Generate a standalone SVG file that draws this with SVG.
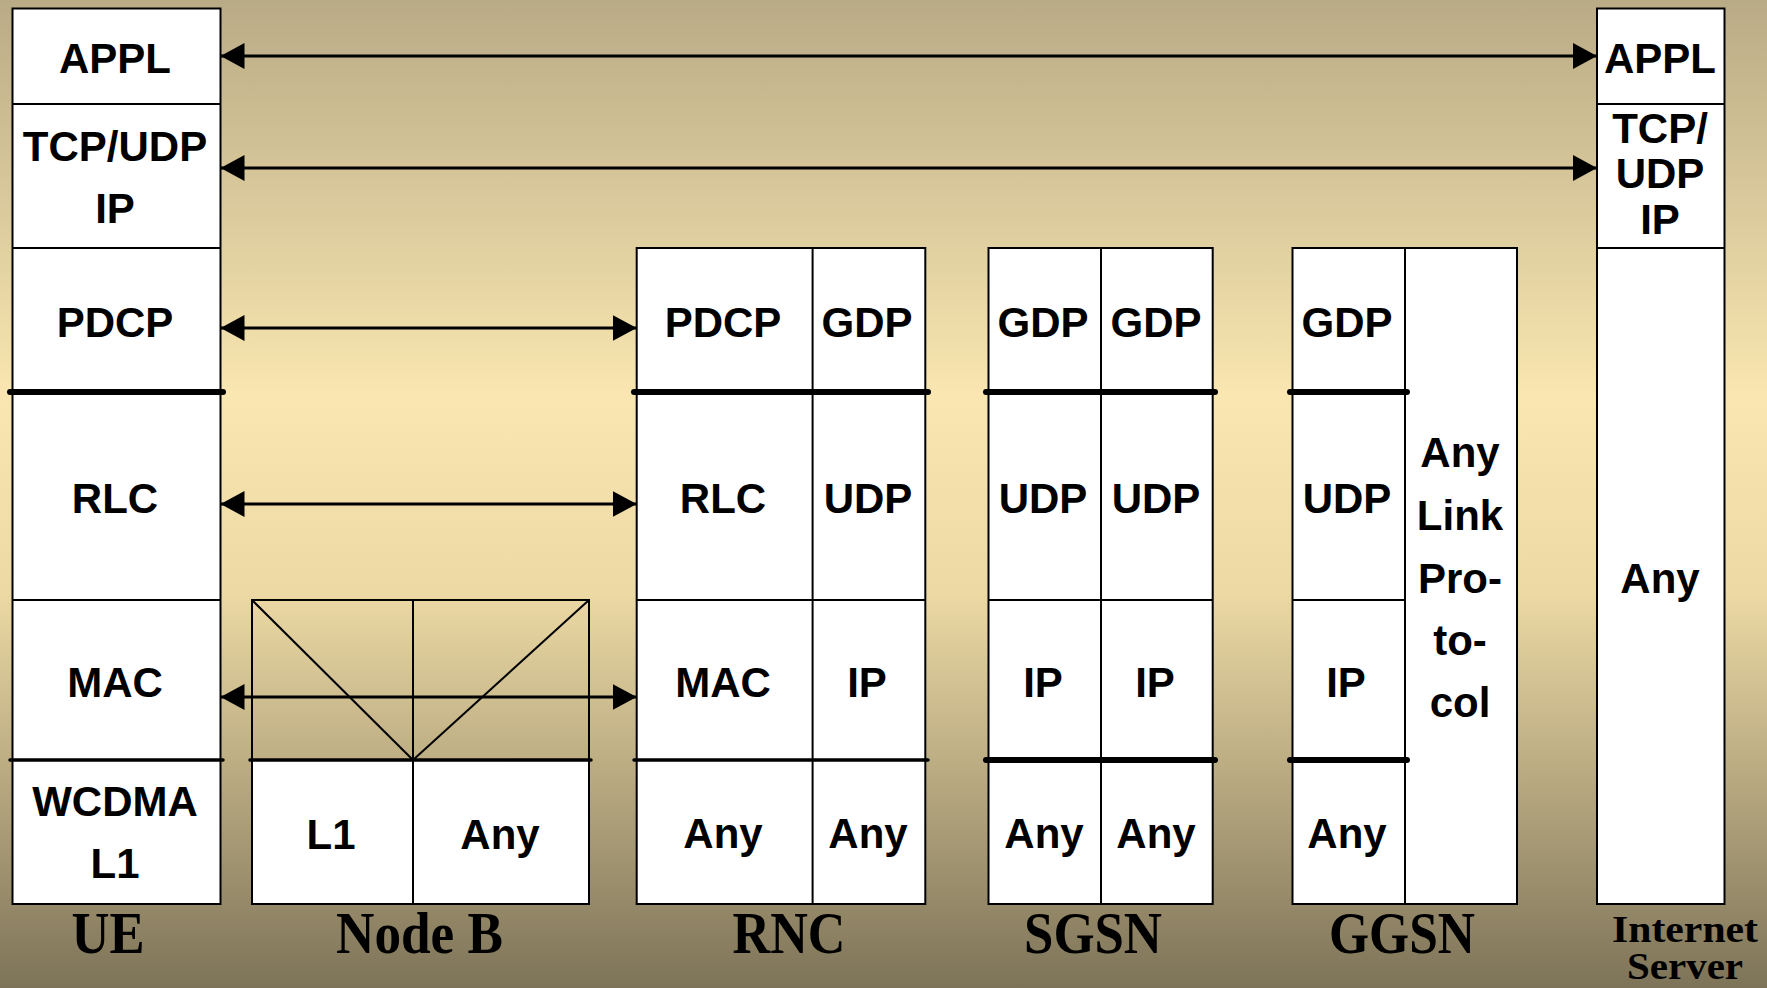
<svg xmlns="http://www.w3.org/2000/svg" width="1767" height="988" viewBox="0 0 1767 988">
  <defs>
    <linearGradient id="bg" x1="0" y1="0" x2="0" y2="1">
      <stop offset="0" stop-color="#b9ab86"/>
      <stop offset="0.4" stop-color="#f9e6b0"/>
      <stop offset="0.6" stop-color="#ecd9a4"/>
      <stop offset="1" stop-color="#7d7358"/>
    </linearGradient>
    <marker id="ah" viewBox="0 0 24 26" refX="24" refY="13" markerWidth="24" markerHeight="26" markerUnits="userSpaceOnUse" orient="auto-start-reverse">
      <path d="M0,0 L24,13 L0,26 Z" fill="#000"/>
    </marker>
  </defs>
  <style>
    .box { fill: #fff; stroke: #000; stroke-width: 2; }
    .frame { fill: none; stroke: #000; stroke-width: 2; }
    .ln { stroke: #000; stroke-width: 2; fill: none; }
    .thick { stroke: #000; stroke-width: 6; stroke-linecap: round; }
    .med { stroke: #000; stroke-width: 3.5; stroke-linecap: round; }
    .t { font-family: "Liberation Sans", Arial, sans-serif; font-weight: bold; font-size: 42px; text-anchor: middle; fill: #000; }
    .lbl { font-family: "Liberation Serif", "Times New Roman", serif; font-weight: bold; font-size: 59px; text-anchor: middle; fill: #000; }
    .lbl2 { font-family: "Liberation Serif", "Times New Roman", serif; font-weight: bold; font-size: 38px; text-anchor: middle; fill: #000; }
    .arr { stroke: #000; stroke-width: 3; fill: none; marker-start: url(#ah); marker-end: url(#ah); }
  </style>
  <rect x="0" y="0" width="1767" height="988" fill="url(#bg)"/>

  <g id="ue">
    <rect class="box" x="12.5" y="8.5" width="208" height="895.5"/>
    <line class="ln" x1="12.5" y1="104" x2="220.5" y2="104"/>
    <line class="ln" x1="12.5" y1="248" x2="220.5" y2="248"/>
    <line class="ln" x1="12.5" y1="600" x2="220.5" y2="600"/>
    <line class="thick" x1="10" y1="392" x2="223" y2="392"/>
    <line class="med" x1="10" y1="760" x2="223" y2="760"/>
    <text class="t" x="115" y="73">APPL</text>
    <text class="t" x="115" y="161">TCP/UDP</text>
    <text class="t" x="115" y="223">IP</text>
    <text class="t" x="115" y="337">PDCP</text>
    <text class="t" x="115" y="513">RLC</text>
    <text class="t" x="115" y="697">MAC</text>
    <text class="t" x="115" y="816">WCDMA</text>
    <text class="t" x="115" y="878">L1</text>
  </g>

  <g id="nodeb">
    <rect class="box" x="252" y="760" width="337" height="144"/>
    <rect class="frame" x="252" y="600" width="337" height="160"/>
    <line class="ln" x1="413" y1="600" x2="413" y2="904"/>
    <line class="ln" x1="252" y1="600" x2="413" y2="760"/>
    <line class="ln" x1="589" y1="600" x2="413" y2="760"/>
    <line class="med" x1="250" y1="760" x2="591" y2="760"/>
    <text class="t" x="331" y="849">L1</text>
    <text class="t" x="500" y="849">Any</text>
  </g>

  <g id="rnc">
    <rect class="box" x="636.7" y="248" width="288.6" height="656"/>
    <line class="ln" x1="812.6" y1="248" x2="812.6" y2="904"/>
    <line class="ln" x1="636.7" y1="600" x2="925.3" y2="600"/>
    <line class="thick" x1="634" y1="392" x2="928" y2="392"/>
    <line class="med" x1="634" y1="760" x2="928" y2="760"/>
    <text class="t" x="723" y="337">PDCP</text>
    <text class="t" x="867" y="337">GDP</text>
    <text class="t" x="723" y="513">RLC</text>
    <text class="t" x="868" y="513">UDP</text>
    <text class="t" x="723" y="697">MAC</text>
    <text class="t" x="867" y="697">IP</text>
    <text class="t" x="723" y="848">Any</text>
    <text class="t" x="868" y="848">Any</text>
  </g>

  <g id="sgsn">
    <rect class="box" x="988.5" y="248" width="224.2" height="656"/>
    <line class="ln" x1="1101" y1="248" x2="1101" y2="904"/>
    <line class="ln" x1="988.5" y1="600" x2="1212.7" y2="600"/>
    <line class="thick" x1="986" y1="392" x2="1215" y2="392"/>
    <line class="thick" x1="986" y1="760" x2="1215" y2="760"/>
    <text class="t" x="1043" y="337">GDP</text>
    <text class="t" x="1156" y="337">GDP</text>
    <text class="t" x="1043" y="513">UDP</text>
    <text class="t" x="1156" y="513">UDP</text>
    <text class="t" x="1043" y="697">IP</text>
    <text class="t" x="1155" y="697">IP</text>
    <text class="t" x="1044" y="848">Any</text>
    <text class="t" x="1156" y="848">Any</text>
  </g>

  <g id="ggsn">
    <rect class="box" x="1292.5" y="248" width="224.5" height="656"/>
    <line class="ln" x1="1405" y1="248" x2="1405" y2="904"/>
    <line class="ln" x1="1292.5" y1="600" x2="1405" y2="600"/>
    <line class="thick" x1="1290" y1="392" x2="1407" y2="392"/>
    <line class="thick" x1="1290" y1="760" x2="1407" y2="760"/>
    <text class="t" x="1347" y="337">GDP</text>
    <text class="t" x="1347" y="513">UDP</text>
    <text class="t" x="1346" y="697">IP</text>
    <text class="t" x="1347" y="848">Any</text>
    <text class="t" x="1460" y="467">Any</text>
    <text class="t" x="1460" y="530">Link</text>
    <text class="t" x="1460" y="593">Pro-</text>
    <text class="t" x="1460" y="655">to-</text>
    <text class="t" x="1460" y="717">col</text>
  </g>

  <g id="internet-server">
    <rect class="box" x="1597" y="8.5" width="127.5" height="895.5"/>
    <line class="ln" x1="1597" y1="104" x2="1724.5" y2="104"/>
    <line class="ln" x1="1597" y1="248" x2="1724.5" y2="248"/>
    <text class="t" x="1660" y="73">APPL</text>
    <text class="t" x="1660" y="143">TCP/</text>
    <text class="t" x="1660" y="188">UDP</text>
    <text class="t" x="1660" y="234">IP</text>
    <text class="t" x="1660" y="593">Any</text>
  </g>

  <g id="connectors">
    <line class="arr" x1="220.5" y1="56" x2="1597" y2="56"/>
    <line class="arr" x1="220.5" y1="168" x2="1597" y2="168"/>
    <line class="arr" x1="220.5" y1="328" x2="636.7" y2="328"/>
    <line class="arr" x1="220.5" y1="504" x2="636.7" y2="504"/>
    <line class="arr" x1="220.5" y1="697" x2="636.7" y2="697"/>
  </g>

  <g id="labels">
    <text class="lbl" x="108" y="953" textLength="73" lengthAdjust="spacingAndGlyphs">UE</text>
    <text class="lbl" x="419.5" y="953" textLength="167" lengthAdjust="spacingAndGlyphs">Node B</text>
    <text class="lbl" x="789" y="953" textLength="113" lengthAdjust="spacingAndGlyphs">RNC</text>
    <text class="lbl" x="1093" y="953" textLength="138" lengthAdjust="spacingAndGlyphs">SGSN</text>
    <text class="lbl" x="1402" y="953" textLength="146" lengthAdjust="spacingAndGlyphs">GGSN</text>
    <text class="lbl2" x="1685" y="942" textLength="146" lengthAdjust="spacingAndGlyphs">Internet</text>
    <text class="lbl2" x="1685" y="979" textLength="116" lengthAdjust="spacingAndGlyphs">Server</text>
  </g>
</svg>
